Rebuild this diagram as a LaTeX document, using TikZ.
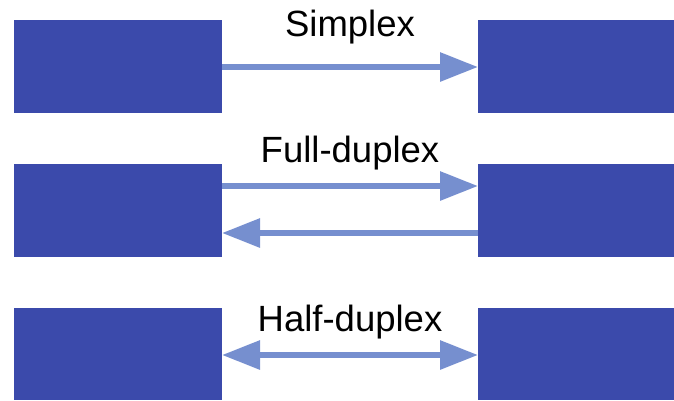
\documentclass[tikz,border=0pt]{standalone}
\usepackage{fontspec}
\setmainfont{Liberation Sans}
\usetikzlibrary{arrows.meta}
\definecolor{boxblue}{HTML}{3B4AAB}
\definecolor{arrblue}{HTML}{768FCF}
\begin{document}
\begin{tikzpicture}[x=1pt,y=-1pt,
  blk/.style={fill=boxblue, draw=none, inner sep=0pt, anchor=north west, minimum height=93pt},
  lblk/.style={blk, minimum width=208pt},
  rblk/.style={blk, minimum width=196pt},
  link/.style={draw=arrblue, line width=6pt},
  tip/.style={-{Triangle[length=38pt,width=28pt]}},
  lab/.style={anchor=base, inner sep=0pt, font=\fontsize{36.5}{40}\selectfont}]
\useasboundingbox (0,0) rectangle (674,400);
% row 1
\node[lblk] (l1) at (14,20) {};
\node[rblk] (r1) at (478,20) {};
\coordinate (a1s) at (222,67);
\coordinate (a1e) at (478,67);
\draw[link,tip] (a1s) -- (a1e);
\node[lab] (t1) at (350,36) {Simplex};
% row 2
\node[lblk] (l2) at (14,164) {};
\node[rblk] (r2) at (478,164) {};
\coordinate (a2s) at (222,186);
\coordinate (a2e) at (478,186);
\coordinate (b2s) at (478,233);
\coordinate (b2e) at (222,233);
\draw[link,tip] (a2s) -- (a2e);
\draw[link,tip] (b2s) -- (b2e);
\node[lab] (t2) at (350,162) {Full-duplex};
% row 3
\node[lblk, minimum height=92pt] (l3) at (14,308) {};
\node[rblk, minimum height=92pt] (r3) at (478,308) {};
\coordinate (a3s) at (222,355);
\coordinate (a3e) at (478,355);
\draw[link,{Triangle[length=38pt,width=28pt]}-{Triangle[length=38pt,width=28pt]}] (a3s) -- (a3e);
\node[lab] (t3) at (350,331) {Half-duplex};
\end{tikzpicture}
\end{document}
